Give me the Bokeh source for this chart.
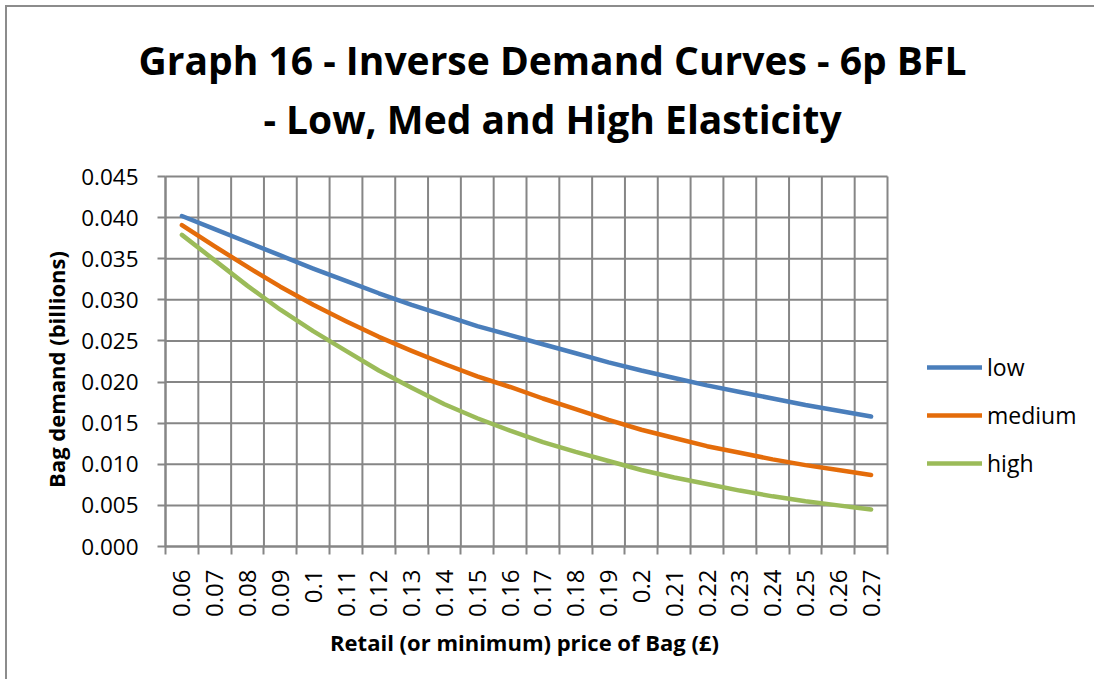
import math
from bokeh.plotting import figure
from bokeh.models import (Range1d, FixedTicker, PrintfTickFormatter, Legend, LegendItem, Label)
from bokeh.embed import file_html
from bokeh.resources import INLINE

# ---- data ----
price_labels = ["0.06", "0.07", "0.08", "0.09", "0.1", "0.11", "0.12", "0.13", "0.14", "0.15",
                "0.16", "0.17", "0.18", "0.19", "0.2", "0.21", "0.22", "0.23", "0.24", "0.25",
                "0.26", "0.27"]
low = [0.0402, 0.0386, 0.0370, 0.0354, 0.0338, 0.0323, 0.0308, 0.0294, 0.0281, 0.0268, 0.0257,
       0.0246, 0.0235, 0.0224, 0.0214, 0.0205, 0.0196, 0.0188, 0.0180, 0.0172, 0.0165, 0.0158]
medium = [0.0391, 0.0365, 0.0340, 0.0316, 0.0294, 0.0274, 0.0255, 0.0238, 0.0222, 0.0207, 0.0194,
          0.0180, 0.0167, 0.0154, 0.0142, 0.0132, 0.0122, 0.0114, 0.0106, 0.0099, 0.0093, 0.0087]
high = [0.0379, 0.0348, 0.0317, 0.0288, 0.0262, 0.0238, 0.0214, 0.0193, 0.0173, 0.0156, 0.0141,
        0.0127, 0.0115, 0.0104, 0.0093, 0.0084, 0.0076, 0.0068, 0.0061, 0.0055, 0.0050, 0.0045]
series_names = ["low", "medium", "high"]
y_ticks = [0.000, 0.005, 0.010, 0.015, 0.020, 0.025, 0.030, 0.035, 0.040, 0.045]

title_lines = ["Graph 16 - Inverse Demand Curves - 6p BFL", "- Low, Med and High Elasticity"]
x_title = "Retail (or minimum) price of Bag (£)"
y_title = "Bag demand (billions)"

# ---- style / layout (pixels) ----
colors = ["#4A7EBB", "#E46C0A", "#9BBB59"]
grid_col = "#868686"
FONT = "Open Sans"
W, H = 1089, 674                   # canvas
PL, PR, PT, PB = 158, 880, 169, 539  # plot area inside canvas

n = len(price_labels)
centers = [i + 0.5 for i in range(n)]
bounds = list(range(n + 1))
ymin, ymax = y_ticks[0], y_ticks[-1]

# ranges chosen so the data area lands on the plot-area rectangle while the frame fills the canvas
xs = (PR - PL) / n
ys = (PB - PT) / (ymax - ymin)
x_range = Range1d(-PL / xs, n + (W - PR) / xs)
y_range = Range1d(ymin - (H - PB) / ys, ymax + PT / ys)

p = figure(width=W, height=H, output_backend="svg", toolbar_location=None,
           x_range=x_range, y_range=y_range, min_border=0)
p.margin = (5, 0, 0, 5)
p.styles = {"border-left": "2px solid #8C8C8C", "border-top": "2px solid #8C8C8C"}
p.outline_line_color = None
p.background_fill_color = "white"
p.border_fill_color = "white"
p.xgrid.visible = False
p.ygrid.visible = False

# grid lines (category boundaries and value ticks)
p.segment(x0=bounds, y0=[ymin] * len(bounds), x1=bounds, y1=[ymax] * len(bounds),
          line_color=grid_col, line_width=2)
p.segment(x0=[0] * len(y_ticks), y0=y_ticks, x1=[n] * len(y_ticks), y1=y_ticks,
          line_color=grid_col, line_width=2)

# x axis
xa = p.xaxis[0]
xa.fixed_location = ymin
xa.bounds = (0, n)
xa.ticker = FixedTicker(ticks=centers, minor_ticks=bounds)
xa.major_label_overrides = {c: lab for c, lab in zip(centers, price_labels)}
xa.major_label_orientation = math.pi / 2
xa.major_tick_line_color = None
xa.major_tick_out = 0
xa.major_tick_in = 0
xa.minor_tick_line_color = grid_col
xa.minor_tick_line_width = 2
xa.minor_tick_out = 8
xa.minor_tick_in = 0
xa.axis_line_color = grid_col
xa.axis_line_width = 2
xa.major_label_standoff = 15
xa.major_label_text_font = FONT
xa.major_label_text_font_size = "24px"
xa.major_label_text_color = "black"

# y axis
ya = p.yaxis[0]
ya.fixed_location = 0
ya.bounds = (ymin, ymax)
ya.ticker = FixedTicker(ticks=y_ticks)
ya.formatter = PrintfTickFormatter(format="%.3f")
ya.major_tick_out = 8
ya.major_tick_in = 0
ya.major_tick_line_color = grid_col
ya.major_tick_line_width = 2
ya.minor_tick_line_color = None
ya.axis_line_color = grid_col
ya.axis_line_width = 2
ya.major_label_standoff = 19
ya.major_label_text_font = FONT
ya.major_label_text_font_size = "22.5px"
ya.major_label_text_color = "black"

# series
renderers = []
for vals, col in zip([low, medium, high], colors):
    r = p.line(centers, vals, line_color=col, line_width=4.5, line_cap="round", line_join="round")
    renderers.append(r)

# legend (to the right of the plot area)
legend = Legend(items=[LegendItem(label=nm, renderers=[r]) for nm, r in zip(series_names, renderers)],
                location=(920, H - 473), orientation="vertical",
                glyph_width=55, glyph_height=34, label_height=34, spacing=14,
                label_standoff=5, padding=0, margin=0,
                label_text_font=FONT, label_text_font_size="23px", label_text_color="black",
                border_line_color=None, background_fill_alpha=0)
p.add_layout(legend, "center")

# title (two centred lines), screen units measured from canvas bottom-left
for txt, mid in zip(title_lines, [52, 111]):
    p.add_layout(Label(x=545, y=H - mid, x_units="screen", y_units="screen", text=txt,
                       text_align="center", text_baseline="middle",
                       text_font=FONT, text_font_style="bold", text_font_size="39px",
                       text_color="black"))

# axis titles
p.add_layout(Label(x=517, y=H - 634, x_units="screen", y_units="screen", text=x_title,
                   text_align="center", text_baseline="middle",
                   text_font=FONT, text_font_style="bold", text_font_size="22px",
                   text_color="black"))
p.add_layout(Label(x=48, y=H - 362, x_units="screen", y_units="screen", text=y_title,
                   angle=math.pi / 2, text_align="center", text_baseline="middle",
                   text_font=FONT, text_font_style="bold", text_font_size="22px",
                   text_color="black"))

open("out.html", "w").write(file_html(p, INLINE))
